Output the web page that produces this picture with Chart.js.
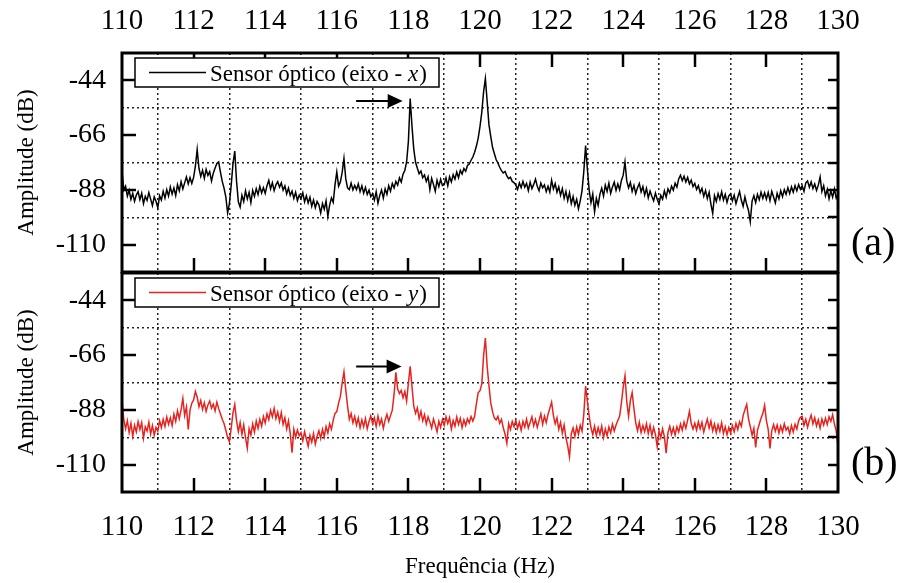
<!DOCTYPE html>
<html>
<head>
<meta charset="utf-8">
<script src="https://cdn.jsdelivr.net/npm/chart.js@4.4.0/dist/chart.umd.min.js"></script>
<style>
  html, body { margin: 0; padding: 0; background: #fff; }
  #wrap { position: relative; width: 901px; height: 583px; }
  canvas { position: absolute; left: 0; }
  #chartA { top: 0; }
  #chartB { top: 272px; }
</style>
</head>
<body>
<div id="wrap">
  <canvas id="chartA" width="901" height="274"></canvas>
  <canvas id="chartB" width="901" height="311"></canvas>
</div>
<script>
// ---- eixos ----
const xTickLabels = [110, 112, 114, 116, 118, 120, 122, 124, 126, 128, 130];
const xGridLines = [111, 113, 115, 117, 119, 121, 123, 125, 127, 129];
const yTickLabels = [-44, -66, -88, -110];
const yGridLines = [-33, -55, -77, -99, -121];

// ---- frequência (Hz) ----
const freq = [
  110.00,110.05,110.10,110.15,110.20,110.25,110.30,110.35,110.40,110.45,110.50,110.55,110.60,110.65,110.70,110.75,110.80,110.85,110.90,110.95,
  111.00,111.05,111.10,111.15,111.20,111.25,111.30,111.35,111.40,111.45,111.50,111.55,111.60,111.65,111.70,111.75,111.80,111.85,111.90,111.95,
  112.00,112.05,112.10,112.15,112.20,112.25,112.30,112.35,112.40,112.45,112.50,112.55,112.60,112.65,112.70,112.75,112.80,112.85,112.90,112.95,
  113.00,113.05,113.10,113.15,113.20,113.25,113.30,113.35,113.40,113.45,113.50,113.55,113.60,113.65,113.70,113.75,113.80,113.85,113.90,113.95,
  114.00,114.05,114.10,114.15,114.20,114.25,114.30,114.35,114.40,114.45,114.50,114.55,114.60,114.65,114.70,114.75,114.80,114.85,114.90,114.95,
  115.00,115.05,115.10,115.15,115.20,115.25,115.30,115.35,115.40,115.45,115.50,115.55,115.60,115.65,115.70,115.75,115.80,115.85,115.90,115.95,
  116.00,116.05,116.10,116.15,116.20,116.25,116.30,116.35,116.40,116.45,116.50,116.55,116.60,116.65,116.70,116.75,116.80,116.85,116.90,116.95,
  117.00,117.05,117.10,117.15,117.20,117.25,117.30,117.35,117.40,117.45,117.50,117.55,117.60,117.65,117.70,117.75,117.80,117.85,117.90,117.95,
  118.00,118.05,118.10,118.15,118.20,118.25,118.30,118.35,118.40,118.45,118.50,118.55,118.60,118.65,118.70,118.75,118.80,118.85,118.90,118.95,
  119.00,119.05,119.10,119.15,119.20,119.25,119.30,119.35,119.40,119.45,119.50,119.55,119.60,119.65,119.70,119.75,119.80,119.85,119.90,119.95,
  120.00,120.05,120.10,120.15,120.20,120.25,120.30,120.35,120.40,120.45,120.50,120.55,120.60,120.65,120.70,120.75,120.80,120.85,120.90,120.95,
  121.00,121.05,121.10,121.15,121.20,121.25,121.30,121.35,121.40,121.45,121.50,121.55,121.60,121.65,121.70,121.75,121.80,121.85,121.90,121.95,
  122.00,122.05,122.10,122.15,122.20,122.25,122.30,122.35,122.40,122.45,122.50,122.55,122.60,122.65,122.70,122.75,122.80,122.85,122.90,122.95,
  123.00,123.05,123.10,123.15,123.20,123.25,123.30,123.35,123.40,123.45,123.50,123.55,123.60,123.65,123.70,123.75,123.80,123.85,123.90,123.95,
  124.00,124.05,124.10,124.15,124.20,124.25,124.30,124.35,124.40,124.45,124.50,124.55,124.60,124.65,124.70,124.75,124.80,124.85,124.90,124.95,
  125.00,125.05,125.10,125.15,125.20,125.25,125.30,125.35,125.40,125.45,125.50,125.55,125.60,125.65,125.70,125.75,125.80,125.85,125.90,125.95,
  126.00,126.05,126.10,126.15,126.20,126.25,126.30,126.35,126.40,126.45,126.50,126.55,126.60,126.65,126.70,126.75,126.80,126.85,126.90,126.95,
  127.00,127.05,127.10,127.15,127.20,127.25,127.30,127.35,127.40,127.45,127.50,127.55,127.60,127.65,127.70,127.75,127.80,127.85,127.90,127.95,
  128.00,128.05,128.10,128.15,128.20,128.25,128.30,128.35,128.40,128.45,128.50,128.55,128.60,128.65,128.70,128.75,128.80,128.85,128.90,128.95,
  129.00,129.05,129.10,129.15,129.20,129.25,129.30,129.35,129.40,129.45,129.50,129.55,129.60,129.65,129.70,129.75,129.80,129.85,129.90,129.95,
  130.00
];

// ---- sensor eixo x (dB) ----
const ampX = [
  -80.5,-88.0,-86.5,-90.5,-88.2,-91.8,-89.4,-92.6,-90.1,-88.7,-91.9,-89.3,-93.5,-90.6,-92.2,-89.1,-91.7,-94.3,-90.8,-92.6,
  -95.2,-90.4,-92.1,-88.6,-91.3,-87.9,-90.5,-86.8,-89.7,-87.2,-90.3,-85.9,-88.4,-84.7,-87.6,-85.2,-82.8,-85.6,-83.1,-85.4,
  -83.0,-78.5,-71.8,-79.4,-82.6,-80.1,-83.4,-79.8,-82.2,-80.7,-84.5,-81.3,-79.2,-77.4,-76.8,-80.9,-84.6,-87.3,-90.8,-97.2,
  -93.5,-86.2,-77.5,-72.4,-84.6,-92.8,-94.9,-90.2,-92.7,-88.4,-91.6,-89.0,-93.1,-88.2,-90.6,-87.5,-89.9,-86.6,-89.2,-87.1,
  -89.4,-86.3,-84.2,-87.6,-85.1,-88.3,-86.0,-84.7,-86.9,-85.2,-88.1,-86.4,-89.6,-87.3,-90.2,-88.5,-91.4,-89.0,-92.3,-90.1,
  -91.5,-89.2,-92.8,-90.4,-93.3,-91.0,-94.6,-92.1,-95.2,-92.7,-94.0,-97.3,-93.5,-95.8,-92.4,-98.6,-94.1,-91.2,-93.0,-86.0,
  -80.8,-86.5,-84.8,-81.0,-75.4,-83.5,-87.2,-87.9,-85.3,-88.0,-86.2,-87.9,-85.6,-88.7,-86.4,-89.3,-87.0,-89.8,-88.1,-90.7,
  -89.5,-92.1,-88.7,-93.4,-90.2,-88.1,-91.3,-87.6,-89.8,-86.3,-88.5,-85.4,-87.2,-84.6,-86.1,-83.2,-84.9,-81.7,-80.2,-76.8,
  -68.5,-51.3,-62.4,-71.6,-76.9,-79.3,-81.5,-80.4,-83.1,-82.0,-84.6,-82.7,-87.9,-83.4,-85.8,-88.6,-84.1,-86.7,-83.8,-86.2,
  -85.9,-83.2,-86.4,-82.7,-84.8,-81.9,-83.7,-80.8,-83.1,-80.2,-81.6,-79.4,-80.5,-78.2,-77.6,-76.1,-74.8,-72.9,-70.4,-67.2,
  -62.5,-56.8,-48.6,-43.3,-52.4,-61.8,-66.5,-70.9,-73.4,-75.8,-77.2,-78.9,-80.3,-81.2,-80.6,-82.4,-83.5,-82.9,-84.6,-85.1,
  -86.0,-87.8,-85.2,-87.1,-84.6,-86.9,-85.4,-88.3,-84.9,-87.5,-85.8,-83.7,-86.6,-88.4,-85.3,-87.2,-86.0,-88.7,-86.5,-88.9,
  -84.1,-87.6,-85.5,-88.9,-86.8,-90.2,-87.5,-91.4,-88.6,-92.3,-89.1,-93.5,-90.7,-94.2,-91.8,-95.6,-92.4,-88.3,-80.5,-70.2,
  -79.8,-88.2,-93.1,-89.6,-96.8,-91.4,-94.2,-89.7,-87.3,-90.5,-86.1,-88.6,-85.3,-89.4,-86.8,-84.9,-88.2,-85.6,-87.9,-84.2,
  -82.1,-76.8,-84.5,-87.2,-85.0,-88.6,-86.2,-89.5,-87.1,-85.4,-88.8,-86.7,-90.1,-87.4,-91.2,-88.5,-90.6,-92.4,-89.3,-91.8,
  -93.6,-90.2,-91.7,-88.4,-90.9,-87.6,-89.2,-86.5,-88.1,-85.3,-86.9,-83.6,-82.1,-84.3,-82.5,-84.8,-83.0,-85.6,-84.1,-86.7,
  -85.4,-87.8,-86.3,-89.1,-87.4,-90.6,-88.2,-91.5,-89.0,-93.7,-97.4,-90.3,-92.6,-89.5,-91.8,-88.7,-92.1,-89.8,-93.0,-90.4,
  -89.6,-92.4,-90.1,-93.5,-91.0,-88.7,-92.2,-94.6,-90.8,-93.9,-96.3,-100.8,-92.5,-90.3,-93.1,-89.8,-92.0,-88.9,-91.4,-89.2,
  -91.7,-89.0,-92.3,-88.6,-90.9,-93.2,-89.4,-91.6,-88.3,-90.7,-87.9,-89.8,-87.1,-89.5,-86.8,-88.9,-86.3,-88.4,-85.9,-87.7,
  -86.4,-88.6,-85.2,-84.4,-86.9,-84.8,-87.5,-85.6,-88.2,-86.1,-82.8,-88.7,-86.3,-90.4,-87.8,-91.6,-88.4,-90.9,-87.6,-91.3,
  -89.8
];

// ---- sensor eixo y (dB) ----
const ampY = [
  -84.5,-91.8,-95.6,-92.3,-97.1,-93.4,-98.6,-94.2,-96.8,-92.7,-95.9,-93.1,-99.4,-94.8,-96.5,-92.9,-97.7,-94.3,-98.2,-95.0,
  -96.6,-92.4,-95.1,-91.8,-94.7,-90.9,-93.8,-91.2,-94.3,-89.7,-92.6,-88.4,-91.5,-87.9,-83.4,-90.2,-86.8,-95.9,-88.1,-85.3,
  -84.0,-80.6,-82.9,-86.7,-84.2,-87.8,-85.1,-88.6,-86.0,-84.4,-87.3,-85.7,-88.4,-84.9,-87.5,-89.6,-91.8,-93.5,-96.2,-99.1,
  -100.8,-95.3,-89.2,-85.8,-92.4,-96.7,-93.1,-97.8,-94.0,-99.2,-103.4,-95.6,-98.1,-93.7,-96.9,-92.5,-95.4,-91.8,-94.6,-90.7,
  -93.3,-89.6,-91.9,-88.2,-90.8,-87.4,-91.5,-88.9,-92.6,-89.1,-93.8,-91.2,-95.7,-92.4,-97.6,-105.2,-95.8,-99.0,-96.1,-98.4,
  -97.2,-100.4,-96.8,-99.7,-102.6,-98.3,-100.9,-97.5,-101.8,-98.6,-96.4,-99.5,-95.9,-98.8,-94.7,-97.3,-93.6,-95.8,-92.1,-89.4,
  -88.7,-85.3,-82.6,-77.1,-72.7,-79.8,-86.4,-91.8,-89.5,-93.2,-90.6,-94.1,-91.3,-95.2,-92.0,-94.8,-91.5,-95.6,-92.7,-90.4,
  -93.6,-91.2,-94.7,-90.5,-93.9,-91.7,-95.4,-92.1,-89.8,-92.6,-90.3,-88.1,-81.7,-72.9,-79.6,-81.4,-80.2,-83.1,-80.6,-84.5,
  -77.2,-70.5,-78.6,-86.5,-89.4,-87.2,-91.5,-88.6,-92.4,-89.9,-93.6,-90.8,-92.9,-95.3,-91.7,-94.1,-96.8,-92.6,-95.0,-91.9,
  -94.2,-90.8,-93.5,-91.1,-95.7,-92.3,-94.6,-90.9,-93.8,-91.4,-95.1,-92.0,-94.3,-91.6,-93.2,-90.7,-92.5,-90.6,-85.4,-81.1,
  -80.3,-77.6,-66.2,-59.1,-70.4,-78.2,-85.1,-88.7,-91.2,-92.0,-90.6,-93.4,-91.8,-95.2,-97.8,-101.4,-93.5,-95.9,-92.7,-94.8,
  -92.1,-95.4,-93.0,-96.2,-92.6,-94.9,-91.7,-95.3,-93.1,-90.8,-94.4,-91.9,-95.0,-92.3,-89.6,-93.8,-90.5,-93.1,-89.8,-87.4,
  -84.9,-90.2,-93.6,-91.2,-95.8,-93.0,-97.4,-94.1,-99.2,-102.5,-106.9,-97.6,-95.3,-98.7,-94.9,-97.8,-94.2,-96.5,-89.7,-78.4,
  -84.6,-90.6,-95.2,-97.9,-94.6,-98.3,-95.1,-97.8,-94.5,-99.1,-95.7,-98.4,-94.9,-97.2,-93.8,-96.5,-94.1,-92.3,-90.6,-85.2,
  -78.9,-74.3,-84.7,-90.6,-84.2,-81.1,-87.5,-93.2,-96.4,-93.0,-97.1,-94.3,-96.8,-93.6,-97.5,-94.2,-98.3,-95.1,-97.9,-102.8,
  -96.4,-99.2,-95.6,-98.7,-105.4,-97.1,-94.6,-97.8,-95.2,-98.1,-94.8,-96.9,-93.7,-96.2,-92.9,-95.4,-92.1,-88.6,-93.5,-95.7,
  -93.4,-96.1,-92.8,-95.6,-93.0,-96.9,-94.2,-91.7,-95.3,-92.5,-96.4,-93.7,-97.1,-94.0,-96.6,-93.2,-97.5,-94.8,-98.0,-95.1,
  -97.3,-94.4,-96.8,-93.5,-95.9,-92.8,-94.6,-90.3,-87.9,-85.8,-91.6,-94.7,-98.2,-95.4,-103.1,-96.2,-93.8,-91.4,-89.5,-86.2,
  -92.3,-95.8,-103.5,-96.4,-93.9,-96.6,-94.1,-97.3,-94.5,-96.8,-93.6,-96.1,-94.9,-97.6,-94.3,-96.9,-93.8,-95.7,-92.4,-91.0,
  -90.6,-94.2,-91.8,-95.0,-92.3,-90.1,-93.6,-91.2,-94.5,-92.0,-95.3,-91.7,-94.1,-91.4,-93.9,-90.8,-92.6,-89.9,-93.7,-96.4,
  -102.8
];

// setas (Hz, dB)
const arrowA = { from: [116.54, -52.3], to: [117.84, -52.3] };
const arrowB = { from: [116.54, -70.6], to: [117.81, -70.6] };

Chart.defaults.font.family = '"Liberation Serif", "Times New Roman", serif';
Chart.defaults.color = '#000';

function line(ctx, x1, y1, x2, y2) {
  ctx.beginPath();
  ctx.moveTo(x1, y1);
  ctx.lineTo(x2, y2);
  ctx.stroke();
}

/** moldura, marcas internas, legenda, seta e rótulo do painel */
function makeDecor(o) {
  return {
    id: 'panelDecor',
    afterDatasetsDraw(chart) {
      const { ctx, chartArea: a, scales: { x, y } } = chart;
      const ds = chart.data.datasets[0];
      ctx.save();
      ctx.strokeStyle = '#000';
      ctx.fillStyle = '#000';

      // marcas principais (para dentro)
      ctx.lineWidth = 2.5;
      xTickLabels.forEach(v => {
        if (v === 110 || v === 130) return;
        const px = Math.round(x.getPixelForValue(v));
        if (o.topTicks) line(ctx, px, a.top, px, a.top + 14);
        line(ctx, px, a.bottom, px, a.bottom - 14);
      });
      yTickLabels.forEach(v => {
        const py = Math.round(y.getPixelForValue(v));
        line(ctx, a.left, py, a.left + 14, py);
      });
      [...yTickLabels, ...yGridLines].forEach(v => {
        if (v === -33 || v === -121) return;
        const py = Math.round(y.getPixelForValue(v));
        line(ctx, a.right - 10, py, a.right, py);
      });

      // moldura
      ctx.lineWidth = 3;
      ctx.strokeRect(a.left, a.top, a.right - a.left, a.bottom - a.top);

      // legenda
      const bx = a.left + 13, by = a.top + 5, bw = 304, bh = 29;
      ctx.fillStyle = '#fff';
      ctx.fillRect(bx, by, bw, bh);
      ctx.lineWidth = 1.5;
      ctx.strokeRect(bx, by, bw, bh);
      ctx.strokeStyle = ds.borderColor;
      line(ctx, bx + 14, by + bh / 2, bx + 71, by + bh / 2);
      const parts = ds.label.match(/^(.* )(\w)(\))$/);
      const ty = by + 23;
      let tx = bx + 75;
      ctx.fillStyle = '#000';
      ctx.textBaseline = 'alphabetic';
      ctx.textAlign = 'left';
      ctx.font = '23px "Liberation Serif"';
      ctx.fillText(parts[1], tx, ty);
      tx += ctx.measureText(parts[1]).width;
      ctx.font = 'italic 23px "Liberation Serif"';
      ctx.fillText(parts[2], tx, ty);
      tx += ctx.measureText(parts[2]).width + 1;
      ctx.font = '23px "Liberation Serif"';
      ctx.fillText(parts[3], tx, ty);

      // seta
      const ax0 = x.getPixelForValue(o.arrow.from[0]);
      const ax1 = x.getPixelForValue(o.arrow.to[0]);
      const ay = y.getPixelForValue(o.arrow.from[1]);
      ctx.strokeStyle = '#000';
      ctx.lineWidth = 2;
      line(ctx, ax0, ay, ax1 - 12, ay);
      ctx.beginPath();
      ctx.moveTo(ax1, ay);
      ctx.lineTo(ax1 - 15, ay - 7);
      ctx.lineTo(ax1 - 15, ay + 7);
      ctx.closePath();
      ctx.fill();

      // (a) / (b)
      ctx.font = '40px "Liberation Serif"';
      ctx.textBaseline = 'middle';
      ctx.fillText(o.tag, a.right + 13, y.getPixelForValue(-110));
      ctx.restore();
    }
  };
}

function makePanel(canvasId, p) {
  const xScale = {
    type: 'linear',
    position: p.xPos,
    min: 110,
    max: 130,
    afterFit: s => {
      s.height = p.xHeight;
      s.paddingLeft = 0;
      s.paddingRight = 0;
    },
    ticks: {
      stepSize: 1,
      autoSkip: false,
      maxRotation: 0,
      padding: p.xPad,
      font: { size: 29 },
      callback: v => xTickLabels.includes(v) ? String(v) : ''
    },
    grid: {
      drawTicks: false,
      lineWidth: 1.5,
      color: c => xGridLines.includes(c.tick.value) ? '#222' : 'rgba(0,0,0,0)'
    },
    border: { display: false, dash: [2, 3] },
    title: {
      display: !!p.xTitle,
      text: p.xTitle || '',
      font: { size: 23 },
      padding: { top: 0, bottom: 2 }
    }
  };

  return new Chart(document.getElementById(canvasId), {
    type: 'line',
    data: {
      datasets: [{
        label: p.label,
        data: freq.map((f, i) => ({ x: f, y: p.series[i] })),
        borderColor: p.color,
        borderWidth: 1.5,
        pointRadius: 0,
        tension: 0
      }]
    },
    options: {
      responsive: false,
      animation: false,
      layout: { padding: { left: 0, right: 63, top: p.padTop, bottom: p.padBottom } },
      plugins: { legend: { display: false }, tooltip: { enabled: false } },
      scales: {
        x: xScale,
        y: {
          min: -121,
          max: -33,
          afterFit: s => {
            s.width = 122;
            s.paddingTop = 0;
            s.paddingBottom = 0;
          },
          ticks: {
            stepSize: 11,
            autoSkip: false,
            padding: 16,
            font: { size: 28 },
            callback: v => yTickLabels.includes(v) ? String(v) : ''
          },
          grid: {
            drawTicks: false,
            lineWidth: 1.5,
            color: c => yGridLines.includes(c.tick.value) ? '#222' : 'rgba(0,0,0,0)'
          },
          border: { display: false, dash: [2, 3] },
          title: {
            display: true,
            text: 'Amplitude (dB)',
            font: { size: 23 },
            padding: { top: 13, bottom: 0 }
          }
        }
      }
    },
    plugins: [makeDecor(p)]
  });
}

makePanel('chartA', {
  series: ampX, color: '#000000', label: 'Sensor óptico (eixo - x)', tag: '(a)',
  arrow: arrowA, topTicks: true,
  xPos: 'top', xHeight: 53, xPad: 14, padTop: 0, padBottom: 2
});

makePanel('chartB', {
  series: ampY, color: '#e52420', label: 'Sensor óptico (eixo - y)', tag: '(b)',
  arrow: arrowB, topTicks: false,
  xPos: 'bottom', xHeight: 91, xPad: 18, padTop: 1, padBottom: 0,
  xTitle: 'Frequência (Hz)'
});
</script>
</body>
</html>
